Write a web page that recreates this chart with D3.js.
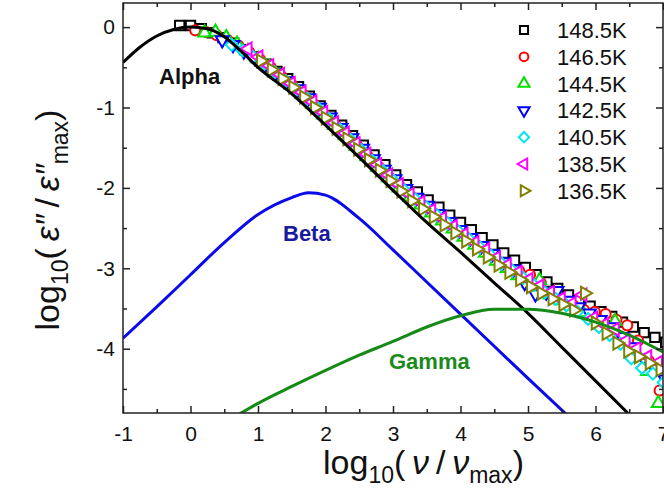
<!DOCTYPE html>
<html>
<head>
<meta charset="utf-8">
<script src="https://cdn.jsdelivr.net/npm/d3@7"></script>
<style>
  body { margin: 0; background: #fff; }
  svg { display: block; font-family: "Liberation Sans", Arial, sans-serif; }
</style>
</head>
<body>
<svg id="chart"></svg>
<script>
// ---- data ----
var temps = ["148.5K", "146.5K", "144.5K", "142.5K", "140.5K", "138.5K", "136.5K"];

// measured frequency grid (log10 nu/nu_max) and the small offset of each series on it
var logFreq = [-0.16, 0.00, 0.16, 0.32, 0.48, 0.64, 0.80, 0.96, 1.12, 1.28, 1.44, 1.60, 1.76, 1.92,
  2.08, 2.24, 2.40, 2.56, 2.72, 2.88, 3.04, 3.20, 3.36, 3.52, 3.68, 3.84, 4.00, 4.16, 4.32, 4.48,
  4.64, 4.80, 4.96, 5.12, 5.28, 5.44, 5.60, 5.76, 5.92, 6.08, 6.24, 6.40, 6.56, 6.72, 6.88, 7.04];
var shifts = [0, 0.07, 0.05, 0.15, 0.13, 0.05, 0.08];

var y148 = [0.02, 0.02, -0.02, -0.07, -0.13, -0.20, -0.28, -0.37, -0.46, -0.55, -0.64, -0.74, -0.86, -0.98,
  -1.10, -1.22, -1.35, -1.47, -1.59, -1.71, -1.84, -1.96, -2.05, -2.15, -2.24, -2.34, -2.43, -2.52, -2.62, -2.71,
  -2.81, -2.90, -2.99, -3.08, -3.17, -3.25, -3.33, -3.40, -3.47, -3.54, -3.60, -3.67, -3.73, -3.80, -3.86, -3.92];
var y146 = [null, -0.04, -0.06, -0.10, -0.16, -0.23, -0.31, -0.40, -0.50, -0.61, -0.72, -0.84, -0.96, -1.09,
  -1.22, -1.35, -1.48, -1.61, -1.74, -1.87, -1.99, -2.11, -2.21, -2.31, -2.41, -2.51, -2.61, -2.71, -2.81, -2.91,
  -3.00, -3.03, -3.08, -3.18, -3.32, -3.40, -3.46, -3.52, -3.54, -3.57, -3.64, -3.71, -3.90, -4.15, -4.52, null];
var y144 = [null, null, -0.07, -0.06, -0.13, -0.21, -0.30, -0.40, -0.50, -0.61, -0.72, -0.84, -0.96, -1.09,
  -1.22, -1.35, -1.48, -1.61, -1.74, -1.87, -2.00, -2.11, -2.21, -2.31, -2.41, -2.51, -2.61, -2.71, -2.81, -2.91,
  -3.00, -3.09, -3.18, -3.15, -3.33, -3.40, -3.47, -3.55, -3.62, -3.70, -3.66, -3.93, -4.05, -4.28, -4.68, null];
var y142 = [null, null, null, -0.16, -0.22, -0.30, -0.38, -0.47, -0.57, -0.67, -0.77, -0.88, -1.00, -1.12,
  -1.25, -1.38, -1.51, -1.64, -1.77, -1.89, -2.01, -2.12, -2.22, -2.32, -2.42, -2.52, -2.62, -2.72, -2.82, -2.92,
  -3.01, -3.18, -3.32, -3.30, -3.28, -3.40, -3.48, -3.56, -3.64, -3.73, -3.85, -3.98, -4.12, -4.24, -4.38, null];
var y140 = [null, null, null, null, -0.22, -0.29, -0.37, -0.46, -0.56, -0.67, -0.78, -0.89, -1.01, -1.14,
  -1.27, -1.40, -1.53, -1.66, -1.79, -1.91, -2.03, -2.14, -2.24, -2.34, -2.44, -2.54, -2.64, -2.74, -2.84, -2.94,
  -3.03, -3.12, -3.21, -3.30, -3.38, -3.46, -3.54, -3.63, -3.73, -3.83, -3.94, -4.12, -4.24, -4.31, -4.42, null];
var y138 = [null, null, null, null, null, null, -0.27, -0.37, -0.48, -0.59, -0.70, -0.81, -0.93, -1.06,
  -1.19, -1.32, -1.45, -1.58, -1.71, -1.84, -1.96, -2.08, -2.18, -2.28, -2.38, -2.48, -2.58, -2.68, -2.77, -2.87,
  -2.96, -3.05, -3.14, -3.22, -3.30, -3.38, -3.44, -3.33, -3.62, -3.70, -3.76, -3.90, -4.00, -4.10, -4.17, null];
var y136 = [null, null, null, null, null, null, null, -0.42, -0.53, -0.64, -0.75, -0.87, -1.00, -1.13,
  -1.26, -1.39, -1.52, -1.65, -1.78, -1.91, -2.04, -2.16, -2.26, -2.36, -2.46, -2.56, -2.66, -2.76, -2.86, -2.96,
  -3.05, -3.14, -3.23, -3.31, -3.38, -3.45, -3.52, -3.31, -3.68, -3.81, -3.93, -4.03, -4.10, -4.18, -4.26, null];
var seriesY = [y148, y146, y144, y142, y140, y138, y136];

// fitted relaxation curves
var alphaX = [-1, -0.75, -0.5, -0.25, 0, 0.25, 0.5, 0.75, 1.0, 1.5, 2.0, 2.5, 3.0, 3.5, 4.0, 4.5, 5.0, 5.5, 6.0, 6.5];
var alphaY = [-0.44, -0.25, -0.11, -0.03, 0.0, -0.02, -0.12, -0.30, -0.50, -0.83, -1.22, -1.62, -2.03, -2.43, -2.80, -3.18, -3.56, -3.98, -4.40, -4.82];
var betaX = [-1, -0.5, 0, 0.5, 1.0, 1.5, 1.75, 2.0, 2.5, 3.0, 3.5, 4.0, 4.5, 5.0, 5.56];
var betaY = [-3.87, -3.48, -3.08, -2.68, -2.33, -2.12, -2.06, -2.09, -2.38, -2.77, -3.17, -3.57, -3.97, -4.37, -4.81];
var gammaX = [0.73, 1.0, 1.5, 2.0, 2.5, 3.0, 3.5, 4.0, 4.5, 5.0, 5.5, 6.0, 6.5, 7.0];
var gammaY = [-4.81, -4.68, -4.47, -4.27, -4.08, -3.91, -3.73, -3.59, -3.51, -3.51, -3.56, -3.67, -3.83, -4.04];

var xTicks = [-1, 0, 1, 2, 3, 4, 5, 6, 7];
var xMinor = [-0.5, 0.5, 1.5, 2.5, 3.5, 4.5, 5.5, 6.5];
var yTicks = [0, -1, -2, -3, -4];
var yMinor = [-0.5, -1.5, -2.5, -3.5, -4.5];

// ---- styles ----
var colors = ["#000000", "#ff0000", "#00e000", "#0000ff", "#00e5ee", "#ff00ff", "#808000"];
var shapes = [d3.symbolSquare, d3.symbolCircle, d3.symbolTriangle, d3.symbolTriangle, d3.symbolSquare, d3.symbolTriangle, d3.symbolTriangle];
var turns = [0, 0, 0, 180, 45, -90, 90];
var sizes = [88, 80, 72, 72, 72, 72, 72];
var font = '"Liberation Sans", Arial, sans-serif';
var axisColor = "#222";

var width = 664, height = 498;
var margin = {top: 3, right: 1, bottom: 85, left: 123};

var svg = d3.select("#chart").attr("width", width).attr("height", height);
svg.append("rect").attr("width", width).attr("height", height).attr("fill", "#fff");

var x = d3.scaleLinear().domain([-1, 7]).range([margin.left, width - margin.right]);
var y = d3.scaleLinear().domain([-4.8, 0.3]).range([height - margin.bottom, margin.top]);

svg.append("clipPath").attr("id", "plot")
  .append("rect")
    .attr("x", margin.left).attr("y", margin.top)
    .attr("width", width - margin.left - margin.right)
    .attr("height", height - margin.top - margin.bottom);

// data markers, hollow with white fill, first series at the bottom
var marks = svg.append("g").attr("clip-path", "url(#plot)");
seriesY.forEach(function(vals, s) {
  var pts = [];
  vals.forEach(function(v, i) { if (v !== null) pts.push({x: logFreq[i] + shifts[s], y: v}); });
  marks.append("g").selectAll("path")
    .data(pts)
    .enter()
    .append("path")
      .attr("d", d3.symbol().type(shapes[s]).size(sizes[s]))
      .attr("transform", d => "translate(" + x(d.x) + "," + y(d.y) + ") rotate(" + turns[s] + ")")
      .attr("fill", "#fff")
      .attr("stroke", colors[s])
      .attr("stroke-width", 2);
});

// fitted curves on top
var line = d3.line().x(d => x(d[0])).y(d => y(d[1])).curve(d3.curveMonotoneX);
var curves = svg.append("g").attr("clip-path", "url(#plot)").attr("fill", "none").attr("stroke-width", 3);
curves.append("path").attr("d", line(d3.zip(alphaX, alphaY))).attr("stroke", "#000");
curves.append("path").attr("d", line(d3.zip(betaX, betaY))).attr("stroke", "#0a0aeb");
curves.append("path").attr("d", line(d3.zip(gammaX, gammaY))).attr("stroke", "#168a16");

// axes, ticks pointing inwards
function styleAxis(g) {
  g.attr("font-size", 21).attr("font-family", font);
  g.select(".domain").remove();
  g.selectAll("line").attr("stroke", axisColor).attr("stroke-width", 1.5);
  g.selectAll("text").attr("fill", "#111");
}
var y0 = height - margin.bottom, x1 = width - margin.right;

svg.append("g").attr("transform", "translate(0," + y0 + ")")
  .call(d3.axisBottom(x).tickValues(xTicks).tickSize(-7).tickSizeOuter(0).tickPadding(13).tickFormat(d => String(d)))
  .call(styleAxis);
svg.append("g").attr("transform", "translate(0," + y0 + ")")
  .call(d3.axisBottom(x).tickValues(xMinor).tickSize(-4).tickSizeOuter(0).tickFormat(""))
  .call(styleAxis);
svg.append("g").attr("transform", "translate(0," + margin.top + ")")
  .call(d3.axisTop(x).tickValues(xTicks).tickSize(-7).tickSizeOuter(0).tickFormat(""))
  .call(styleAxis);
svg.append("g").attr("transform", "translate(0," + margin.top + ")")
  .call(d3.axisTop(x).tickValues(xMinor).tickSize(-4).tickSizeOuter(0).tickFormat(""))
  .call(styleAxis);

svg.append("g").attr("transform", "translate(" + margin.left + ",0)")
  .call(d3.axisLeft(y).tickValues(yTicks).tickSize(-7).tickSizeOuter(0).tickPadding(8).tickFormat(d => String(d)))
  .call(styleAxis);
svg.append("g").attr("transform", "translate(" + margin.left + ",0)")
  .call(d3.axisLeft(y).tickValues(yMinor).tickSize(-4).tickSizeOuter(0).tickFormat(""))
  .call(styleAxis);
svg.append("g").attr("transform", "translate(" + x1 + ",0)")
  .call(d3.axisRight(y).tickValues(yTicks).tickSize(-7).tickSizeOuter(0).tickFormat(""))
  .call(styleAxis);
svg.append("g").attr("transform", "translate(" + x1 + ",0)")
  .call(d3.axisRight(y).tickValues(yMinor).tickSize(-4).tickSizeOuter(0).tickFormat(""))
  .call(styleAxis);

// frame
svg.append("rect")
  .attr("x", margin.left).attr("y", margin.top)
  .attr("width", x1 - margin.left).attr("height", y0 - margin.top)
  .attr("fill", "none").attr("stroke", axisColor).attr("stroke-width", 1.5);

// legend
var legend = svg.append("g").attr("font-family", font).attr("font-size", 22);
temps.forEach(function(t, s) {
  var ly = 30 + s * 26.8;
  legend.append("path")
    .attr("d", d3.symbol().type(shapes[s]).size(sizes[s] * 0.75))
    .attr("transform", "translate(524," + ly + ") rotate(" + turns[s] + ")")
    .attr("fill", "#fff").attr("stroke", colors[s]).attr("stroke-width", 2);
  legend.append("text").attr("x", 557).attr("y", ly).attr("dy", "0.36em").attr("fill", "#111").text(t);
});

// curve labels
var labels = svg.append("g").attr("font-family", font).attr("font-size", 22).attr("font-weight", "bold");
labels.append("text").attr("x", 159).attr("y", 84).attr("fill", "#111").text("Alpha");
labels.append("text").attr("x", 283).attr("y", 241).attr("fill", "#1a1a9e").text("Beta");
labels.append("text").attr("x", 389).attr("y", 369).attr("fill", "#1a8a1a").text("Gamma");

// axis titles
var xt = svg.append("text").attr("x", 323).attr("y", 474)
  .attr("font-family", font).attr("font-size", 34).attr("fill", "#111");
xt.append("tspan").text("log");
xt.append("tspan").attr("font-size", 23).attr("dy", 9).text("10");
xt.append("tspan").attr("dy", -9).text("(\u2009");
xt.append("tspan").attr("font-style", "italic").text("\u03bd");
xt.append("tspan").text("\u2009/\u2009");
xt.append("tspan").attr("font-style", "italic").text("\u03bd");
xt.append("tspan").attr("font-size", 23).attr("dy", 9).text("max");
xt.append("tspan").attr("dy", -9).text(")");

var yt = svg.append("text").attr("transform", "translate(59,220) rotate(-90)")
  .attr("text-anchor", "middle")
  .attr("font-family", font).attr("font-size", 34).attr("fill", "#111");
yt.append("tspan").text("log");
yt.append("tspan").attr("font-size", 23).attr("dy", 9).text("10");
yt.append("tspan").attr("dy", -9).text("(\u2009");
yt.append("tspan").attr("font-style", "italic").text("\u03b5\u2033");
yt.append("tspan").text("\u2009/\u2009");
yt.append("tspan").attr("font-style", "italic").text("\u03b5\u2033");
yt.append("tspan").attr("font-size", 23).attr("dy", 9).text("max");
yt.append("tspan").attr("dy", -9).text(")");
</script>
</body>
</html>
